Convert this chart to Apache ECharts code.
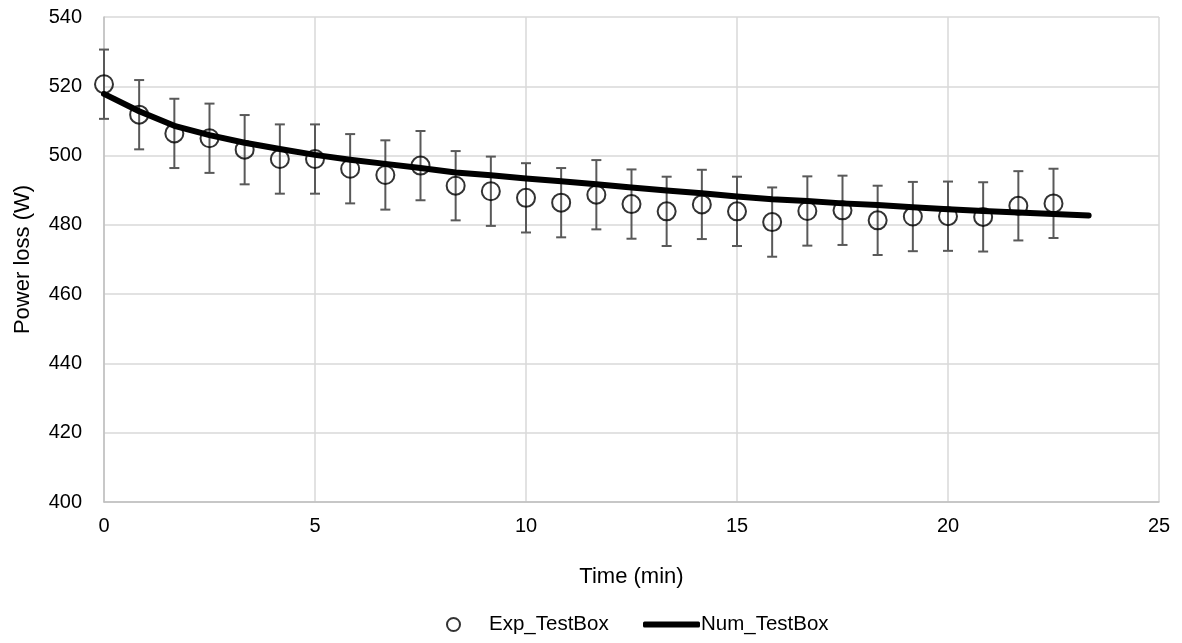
<!DOCTYPE html>
<html>
<head>
<meta charset="utf-8">
<script src="https://cdn.jsdelivr.net/npm/echarts@6/dist/echarts.min.js"></script>
<style>html,body{margin:0;padding:0;background:#fff}#c{width:1182px;height:643px}</style>
</head>
<body>
<div id="c"></div>
<script>
// Data
const timeMin = [0, 0.833, 1.667, 2.5, 3.333, 4.167, 5, 5.833, 6.667, 7.5, 8.333, 9.167, 10, 10.833, 11.667, 12.5, 13.333, 14.167, 15, 15.833, 16.667, 17.5, 18.333, 19.167, 20, 20.833, 21.667, 22.5];
const expPower = [520.6, 511.8, 506.4, 505.0, 501.7, 499.0, 499.0, 496.2, 494.4, 497.1, 491.3, 489.7, 487.8, 486.4, 488.7, 486.0, 483.9, 485.9, 483.9, 480.8, 484.0, 484.2, 481.3, 482.4, 482.5, 482.3, 485.5, 486.2];
const expError = [10, 10, 10, 10, 10, 10, 10, 10, 10, 10, 10, 10, 10, 10, 10, 10, 10, 10, 10, 10, 10, 10, 10, 10, 10, 10, 10, 10];
const numTime = [0, 0.833, 1.667, 2.5, 3.333, 4.167, 5, 5.833, 6.667, 7.5, 8.333, 9.167, 10, 10.833, 11.667, 12.5, 13.333, 14.167, 15, 15.833, 16.667, 17.5, 18.333, 19.167, 20, 20.833, 21.667, 22.5, 23.333];
const numPower = [517.8, 512.8, 508.6, 505.9, 503.7, 501.9, 500.2, 498.8, 497.6, 496.4, 495.1, 494.3, 493.4, 492.6, 491.7, 490.8, 489.9, 489.1, 488.2, 487.4, 486.9, 486.2, 485.7, 485.1, 484.5, 484.0, 483.6, 483.1, 482.7];
const xTicks = {min: 0, max: 25, interval: 5};
const yTicks = {min: 400, max: 540, interval: 20};

const FONT = '"Liberation Sans", Arial, sans-serif';
const chart = echarts.init(document.getElementById('c'), null, {renderer: 'canvas'});

const expData = timeMin.map((t, i) => [t, expPower[i]]);
const errData = timeMin.map((t, i) => [t, expPower[i] - expError[i], expPower[i] + expError[i]]);
const numData = numTime.map((t, i) => [t, numPower[i]]);

chart.setOption({
  animation: false,
  backgroundColor: '#fff',
  grid: {left: 104, right: 23, top: 17, bottom: 141},
  xAxis: {
    type: 'value', min: xTicks.min, max: xTicks.max, interval: xTicks.interval,
    name: 'Time (min)', nameLocation: 'middle', nameGap: 64,
    nameTextStyle: {fontFamily: FONT, fontSize: 22, color: '#000'},
    axisLine: {show: true, lineStyle: {color: '#bfbfbf', width: 1.5}},
    axisTick: {show: false},
    axisLabel: {fontFamily: FONT, fontSize: 20, color: '#000', margin: 14},
    splitLine: {show: true, lineStyle: {color: '#d9d9d9', width: 1.5}}
  },
  yAxis: {
    type: 'value', min: yTicks.min, max: yTicks.max, interval: yTicks.interval,
    name: 'Power loss (W)', nameLocation: 'middle', nameGap: 70, nameRotate: 90,
    nameTextStyle: {fontFamily: FONT, fontSize: 22, color: '#000'},
    axisLine: {show: true, lineStyle: {color: '#bfbfbf', width: 1.5}},
    axisTick: {show: false},
    axisLabel: {fontFamily: FONT, fontSize: 20, color: '#000', margin: 22},
    splitLine: {show: true, lineStyle: {color: '#d9d9d9', width: 1.5}}
  },
  legend: [
    {
      left: 441, top: 609, itemWidth: 13, itemHeight: 13,
      data: [{name: 'Exp_TestBox', icon: 'circle',
              itemStyle: {color: '#fff', borderColor: '#000', borderWidth: 2}}],
      textStyle: {fontFamily: FONT, fontSize: 20.5, color: '#000', padding: [0, 0, 0, 24]}
    },
    {
      left: 638, top: 609, itemWidth: 57, itemHeight: 6,
      data: [{name: 'Num_TestBox', icon: 'roundRect',
              itemStyle: {color: '#000', borderWidth: 0}}],
      textStyle: {fontFamily: FONT, fontSize: 20.5, color: '#000', padding: [0, 0, 0, -4]}
    }
  ],
  series: [
    {
      name: 'Err', type: 'custom', data: errData, z: 2,
      encode: {x: 0, y: [1, 2]},
      renderItem: function (params, api) {
        const x = api.value(0);
        const lo = api.coord([x, api.value(1)]);
        const hi = api.coord([x, api.value(2)]);
        const hw = 5;
        const st = {stroke: '#595959', lineWidth: 2, fill: null};
        return {
          type: 'group',
          children: [
            {type: 'line', shape: {x1: lo[0], y1: lo[1], x2: hi[0], y2: hi[1]}, style: st},
            {type: 'line', shape: {x1: lo[0] - hw, y1: lo[1], x2: lo[0] + hw, y2: lo[1]}, style: st},
            {type: 'line', shape: {x1: hi[0] - hw, y1: hi[1], x2: hi[0] + hw, y2: hi[1]}, style: st}
          ]
        };
      }
    },
    {
      name: 'Num_TestBox', type: 'line', data: numData, z: 3,
      showSymbol: false, symbol: 'none', smooth: false,
      lineStyle: {color: '#000', width: 6, cap: 'round', join: 'round'},
      itemStyle: {color: '#000'}
    },
    {
      name: 'Exp_TestBox', type: 'scatter', data: expData, z: 4,
      symbol: 'circle', symbolSize: 18,
      itemStyle: {color: 'rgba(255,255,255,0)', borderColor: '#000', borderWidth: 2}
    }
  ]
});
</script>
</body>
</html>
